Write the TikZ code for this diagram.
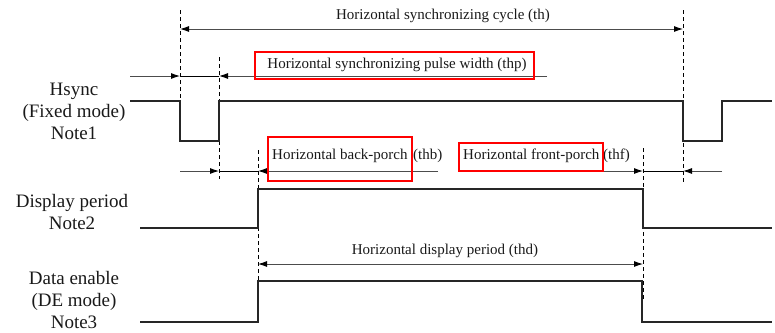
\documentclass[tikz,border=0pt]{standalone}
\usepackage{fontspec}
\setmainfont{Liberation Serif}
\usetikzlibrary{arrows.meta}
\begin{document}
\begin{tikzpicture}[x=1pt,y=-1pt,
  sig/.style={line width=1.4pt, black!85, line join=miter},
  vdash/.style={line width=1pt, dash pattern=on 4pt off 3pt, black},
  dimline/.style={line width=0.9pt, black!70},
  tip/.style={dimline, -{Latex[length=9pt,width=6pt,color=black]}},
  tips/.style={dimline, {Latex[length=9pt,width=6pt,color=black]}-{Latex[length=9pt,width=6pt,color=black]}},
  small/.style={font=\fontsize{15}{17}\selectfont, inner sep=0pt, text=black!90},
  lbl/.style={font=\fontsize{19}{22}\selectfont, align=center, inner sep=0pt, text=black!90},
  redbox/.style={draw=red, line width=1.2pt}]
\useasboundingbox (0,0) rectangle (775,332);

% named reference points
\coordinate (thL) at (180,29);  \coordinate (thR) at (683,29);
\coordinate (pA) at (130,76);   \coordinate (pB) at (180,76);
\coordinate (pC) at (219,76);   \coordinate (pD) at (547,76);
\coordinate (bA) at (180,171);  \coordinate (bB) at (219,171);
\coordinate (bC) at (258,171);  \coordinate (bD) at (438,171);
\coordinate (fA) at (458,171);  \coordinate (fB) at (643,171);
\coordinate (fC) at (683,171);  \coordinate (fD) at (722,171);
\coordinate (dL) at (258,264);  \coordinate (dR) at (643,264);

% dashed verticals
\draw[vdash] (180,10) -- (180,142);
\draw[vdash] (219,57) -- (219,179);
\draw[vdash] (258,150) -- (258,282);
\draw[vdash] (643,148) -- (643,300);
\draw[vdash] (683,10) -- (683,182);

% signals
\draw[sig] (130,101) -- (180,101) -- (180,141) -- (219,141) -- (219,101)
  -- (683,101) -- (683,141) -- (722,141) -- (722,101) -- (772,101);
\draw[sig] (140,228) -- (258,228) -- (258,189) -- (643,189) -- (643,228) -- (772,228);
\draw[sig] (140,322) -- (258,322) -- (258,281) -- (642,281) -- (642,322) -- (772,322);

% dimension lines
\draw[tips] (thL) -- (thR);
\draw[tip] (pA) -- (pB);
\draw[dimline, black] (pB) -- (pC);
\draw[tip] (pD) -- (pC);
\draw[tip] (bA) -- (bB);
\draw[dimline, black] (bB) -- (bC);
\draw[tip] (bD) -- (bC);
\draw[tip] (fA) -- (fB);
\draw[dimline, black] (fB) -- (fC);
\draw[tip] (fD) -- (fC);
\draw[tips] (dL) -- (dR);

% texts
\node[small] (th) at (443,16) {Horizontal synchronizing cycle (th)};
\node[small] (thp) at (397,65) {Horizontal synchronizing pulse width (thp)};
\node[small, anchor=west] (thb) at (272,156) {Horizontal back-porch};
\node[small, anchor=west] (thbx) at (413,156) {(thb)};
\node[small, anchor=west] (thf) at (463,156) {Horizontal front-porch};
\node[small, anchor=west] (thfx) at (603,156) {(thf)};
\node[small] (thd) at (445,251) {Horizontal display period (thd)};

% red boxes
\draw[redbox] (255,52) rectangle (534,79);
\draw[redbox] (268,137) rectangle (412,181);
\draw[redbox] (459,143) rectangle (603,171);

% labels
\node[lbl] (hs) at (74,111) {Hsync\\(Fixed mode)\\Note1};
\node[lbl] (dp) at (72,212) {Display period\\Note2};
\node[lbl] (de) at (74,300) {Data enable\\(DE mode)\\Note3};
\end{tikzpicture}
\end{document}
